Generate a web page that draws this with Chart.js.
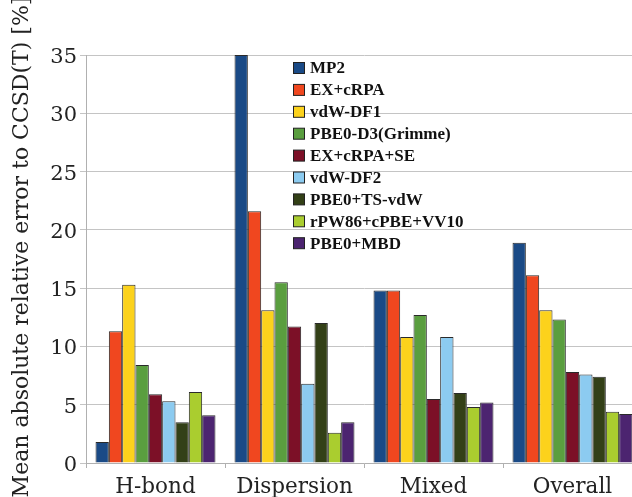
<!DOCTYPE html>
<html>
<head>
<meta charset="utf-8">
<script src="https://cdn.jsdelivr.net/npm/chart.js@4.4.1/dist/chart.umd.min.js"></script>
<style>
    html, body { margin: 0; padding: 0; background: #fff; overflow: hidden; }
    canvas { display: block; }
</style>
</head>
<body>
<canvas id="chart" width="645" height="497"></canvas>
<script>
// dados
const categories = ['H-bond', 'Dispersion', 'Mixed', 'Overall']
const methods = ['MP2', 'EX+cRPA', 'vdW-DF1', 'PBE0-D3(Grimme)', 'EX+cRPA+SE', 'vdW-DF2', 'PBE0+TS-vdW', 'rPW86+cPBE+VV10', 'PBE0+MBD']
const colors = ['#1a4a86', '#f0471f', '#fcd21c', '#5a9e3f', '#7c1027', '#8ccbf0', '#334017', '#aacd2f', '#4c2470']

const mp2      = [1.8, 35.0, 14.8, 18.9]
const excrpa   = [11.3, 21.6, 14.8, 16.1]
const vdwdf1   = [15.3, 13.1, 10.8, 13.1]
const pbe0d3   = [8.4, 15.5, 12.7, 12.3]
const excrpaSE = [5.9, 11.7, 5.5, 7.8]
const vdwdf2   = [5.3, 6.8, 10.8, 7.6]
const pbe0ts   = [3.5, 12.0, 6.0, 7.4]
const vv10     = [6.1, 2.6, 4.8, 4.4]
const pbe0mbd  = [4.1, 3.5, 5.2, 4.2]

const yTicks = [0, 5, 10, 15, 20, 25, 30, 35]
const yTitle = 'Mean absolute relative error to CCSD(T) [%]'

const series = [mp2, excrpa, vdwdf1, pbe0d3, excrpaSE, vdwdf2, pbe0ts, vv10, pbe0mbd]

// Liberation Serif regular vira sans em tamanho grande aqui, então os eixos usam DejaVu Serif
const axisFont = '"DejaVu Serif", serif'
const legendFont = '"Liberation Serif", serif'
const textColor = '#222'

function drawText(ctx, text, x, y, size, align, rotate) {
    ctx.save()
    ctx.translate(x, y)
    if (rotate) ctx.rotate(rotate)
    ctx.font = size + 'px ' + axisFont
    ctx.fillStyle = textColor
    ctx.textAlign = align
    ctx.textBaseline = 'alphabetic'
    ctx.fillText(text, 0, 0)
    ctx.restore()
}

// textos dos eixos
const axisText = {
    id: 'axisText',
    afterDraw(chart) {
        const ctx = chart.ctx
        const x = chart.scales.x
        const y = chart.scales.y

        yTicks.forEach(v => {
            drawText(ctx, String(v), y.right - 9, y.getPixelForValue(v) + 8, 21, 'right')
        })
        categories.forEach((c, i) => {
            drawText(ctx, c, x.getPixelForValue(i), 493, 21.5, 'center')
        })
        drawText(ctx, yTitle, 27.5, 247, 22, 'center', -Math.PI / 2)
    }
}

// legenda dentro da área do gráfico
const insideLegend = {
    id: 'insideLegend',
    afterDraw(chart) {
        const ctx = chart.ctx
        ctx.save()
        chart.data.datasets.forEach((ds, i) => {
            const y = 68 + i * 21.9
            ctx.fillStyle = ds.backgroundColor
            ctx.fillRect(293.5, y - 5.5, 11, 11)
            ctx.strokeStyle = '#222'
            ctx.lineWidth = 1
            ctx.strokeRect(293.5, y - 5.5, 11, 11)
            ctx.fillStyle = '#111'
            ctx.font = 'bold 17px ' + legendFont
            ctx.textBaseline = 'middle'
            ctx.textAlign = 'left'
            ctx.fillText(ds.label, 310, y + 1)
        })
        ctx.restore()
    }
}

new Chart(document.getElementById('chart'), {
    type: 'bar',
    data: {
        labels: categories,
        datasets: methods.map((m, i) => ({
            label: m,
            data: series[i],
            backgroundColor: colors[i],
            borderColor: '#2a2a2a',
            borderWidth: 1,
            categoryPercentage: 0.863,
            barPercentage: 1
        }))
    },
    options: {
        responsive: false,
        animation: false,
        layout: { padding: { top: 55, right: 3, left: 0, bottom: 0 } },
        plugins: {
            legend: { display: false },
            tooltip: { enabled: false }
        },
        scales: {
            x: {
                afterFit: s => { s.height = 34 },
                grid: { drawOnChartArea: false, drawTicks: true, tickLength: 5, color: '#b0b0b0' },
                border: { color: '#b0b0b0' },
                ticks: { display: false }
            },
            y: {
                min: 0,
                max: 35,
                afterFit: s => { s.width = 86 },
                afterBuildTicks: s => { s.ticks = yTicks.map(v => ({ value: v })) },
                grid: { color: '#c4c4c4', tickLength: 6 },
                border: { color: '#b0b0b0' },
                ticks: { display: false }
            }
        }
    },
    plugins: [insideLegend, axisText]
})
</script>
</body>
</html>
